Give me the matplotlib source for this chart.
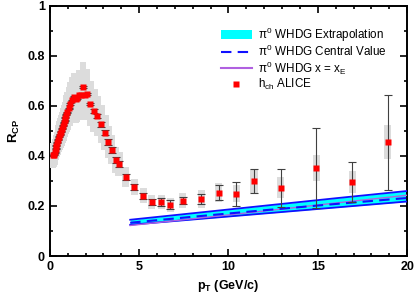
import matplotlib
matplotlib.use('Agg')
import matplotlib.pyplot as plt
from matplotlib.patches import Rectangle, Patch
from matplotlib.lines import Line2D
import numpy as np

plt.rcParams['font.family'] = ['Liberation Sans', 'DejaVu Sans']
plt.rcParams['mathtext.fontset'] = 'custom'
plt.rcParams['mathtext.rm'] = 'Liberation Sans'
plt.rcParams['mathtext.it'] = 'Liberation Sans'
plt.rcParams['mathtext.bf'] = 'Liberation Sans:bold'

# ALICE charged hadrons R_CP
pt = [0.175, 0.225, 0.275, 0.325, 0.375, 0.425, 0.475, 0.525, 0.575, 0.625,
      0.675, 0.725, 0.775, 0.825, 0.875, 0.925, 0.975,
      1.05, 1.15, 1.25, 1.35, 1.45, 1.55, 1.65, 1.75, 1.85, 1.95, 2.07,
      2.27, 2.47, 2.66, 2.87, 3.09, 3.27, 3.46, 3.69, 3.87, 4.25, 4.73,
      5.23, 5.71, 6.24, 6.74, 7.45, 8.47, 9.46, 10.45, 11.43, 12.92,
      14.92, 16.93, 18.92]
rcp = [0.402, 0.405, 0.415, 0.428, 0.440, 0.452, 0.464, 0.476, 0.487, 0.497,
       0.508, 0.520, 0.532, 0.543, 0.553, 0.565, 0.574,
       0.590, 0.607, 0.622, 0.637, 0.628, 0.632, 0.642, 0.645, 0.675, 0.644, 0.648,
       0.608, 0.581, 0.560, 0.527, 0.493, 0.455, 0.424, 0.384, 0.366, 0.317, 0.276,
       0.240, 0.216, 0.216, 0.205, 0.221, 0.228, 0.253, 0.249, 0.300, 0.273,
       0.351, 0.297, 0.455]
stat = [0.002] * 17 + [0.003] * 11 + \
       [0.005, 0.008, 0.009, 0.010, 0.011, 0.012, 0.012, 0.012, 0.012, 0.012, 0.012,
        0.013, 0.013, 0.015, 0.017, 0.015, 0.020, 0.030, 0.048, 0.048, 0.076,
        0.160, 0.080, 0.190]
syst = [0.050, 0.050, 0.052, 0.054, 0.056, 0.058, 0.060, 0.062, 0.064, 0.066,
        0.068, 0.070, 0.072, 0.074, 0.076, 0.078, 0.080,
        0.085, 0.088, 0.092, 0.096, 0.096, 0.098, 0.100, 0.100, 0.100, 0.100, 0.100,
        0.090, 0.085, 0.080, 0.075, 0.070, 0.063, 0.058, 0.052, 0.048, 0.040, 0.032,
        0.030, 0.028, 0.028, 0.027, 0.030, 0.035, 0.037, 0.033, 0.049, 0.041,
        0.053, 0.044, 0.069]

# WHDG pi0 extrapolation
pt_th = [4.5, 8, 12, 16, 20]
band_lo = [0.125, 0.146, 0.170, 0.194, 0.218]
band_hi = [0.145, 0.171, 0.201, 0.231, 0.260]
central = [0.133, 0.157, 0.183, 0.208, 0.232]
xe_line = [0.122, 0.149, 0.180, 0.212, 0.243]

fig = plt.figure(figsize=(4.15, 2.97), dpi=100)
ax = fig.add_axes([0.12, 0.138, 0.861, 0.842])

ax.fill_between(pt_th, band_lo, band_hi, color='#00ffff', lw=0, zorder=2)
ax.plot(pt_th, band_lo, color='#1010ff', lw=1.3, zorder=3)
ax.plot(pt_th, band_hi, color='#1010ff', lw=1.3, zorder=3)
ax.plot(pt_th, xe_line, color='#b060e0', lw=1.0, zorder=3)
ax.plot(pt_th, central, color='#1010ff', lw=1.5, ls=(0, (5, 3)), zorder=4)

for x, y, s in zip(pt, rcp, syst):
    hw = 0.16 if x < 2.2 else 0.2
    ax.add_patch(Rectangle((x - hw, y - s), 2 * hw, 2 * s, facecolor='#dcdcdc',
                           edgecolor='none', zorder=5))

ax.errorbar(pt, rcp, yerr=stat, fmt='none', ecolor='#404040', elinewidth=0.8,
            capsize=2.8, capthick=0.8, zorder=6)
ax.plot(pt, rcp, 's', color='#ff0000', ms=4, mec='none', zorder=7)

ax.set_xlim(0, 20)
ax.set_ylim(0, 1)
ax.set_xticks([0, 5, 10, 15, 20])
ax.set_xticks(np.arange(0, 21, 1), minor=True)
ax.set_yticks([0, 0.2, 0.4, 0.6, 0.8, 1])
ax.set_yticklabels(['0', '0.2', '0.4', '0.6', '0.8', '1'])
ax.set_yticks(np.arange(0, 1.01, 0.1), minor=True)
ax.tick_params(which='both', direction='in', top=True, right=True, width=1.2,
               labelsize=9)
ax.tick_params(which='major', length=5)
ax.tick_params(which='minor', length=2.5)
for lab in ax.get_xticklabels() + ax.get_yticklabels():
    lab.set_fontweight('bold')
for sp in ax.spines.values():
    sp.set_linewidth(1.4)

ax.set_xlabel(r'$\mathbf{p_T}$ (GeV/c)', fontsize=9, fontweight='bold', labelpad=4)
ax.set_ylabel(r'$\mathbf{R_{CP}}$', fontsize=9.5, fontweight='bold', labelpad=4)

handles = [Patch(facecolor='#00ffff', edgecolor='none'),
           Line2D([], [], color='#1010ff', lw=1.5, ls=(0, (5, 3))),
           Line2D([], [], color='#b060e0', lw=1.5),
           Line2D([], [], marker='s', color='#ff0000', ls='none', ms=4, mec='none')]
labels = [r'$\pi^0$ WHDG Extrapolation', r'$\pi^0$ WHDG Central Value',
          r'$\pi^0$ WHDG x = x$_E$', r'h$_{ch}$ ALICE']
ax.legend(handles, labels, loc='upper left', bbox_to_anchor=(0.455, 0.955),
          frameon=False, fontsize=8.4, handlelength=2.7, handletextpad=0.5,
          labelspacing=0.02, borderpad=0.2)

fig.savefig('out.png', dpi=100)
